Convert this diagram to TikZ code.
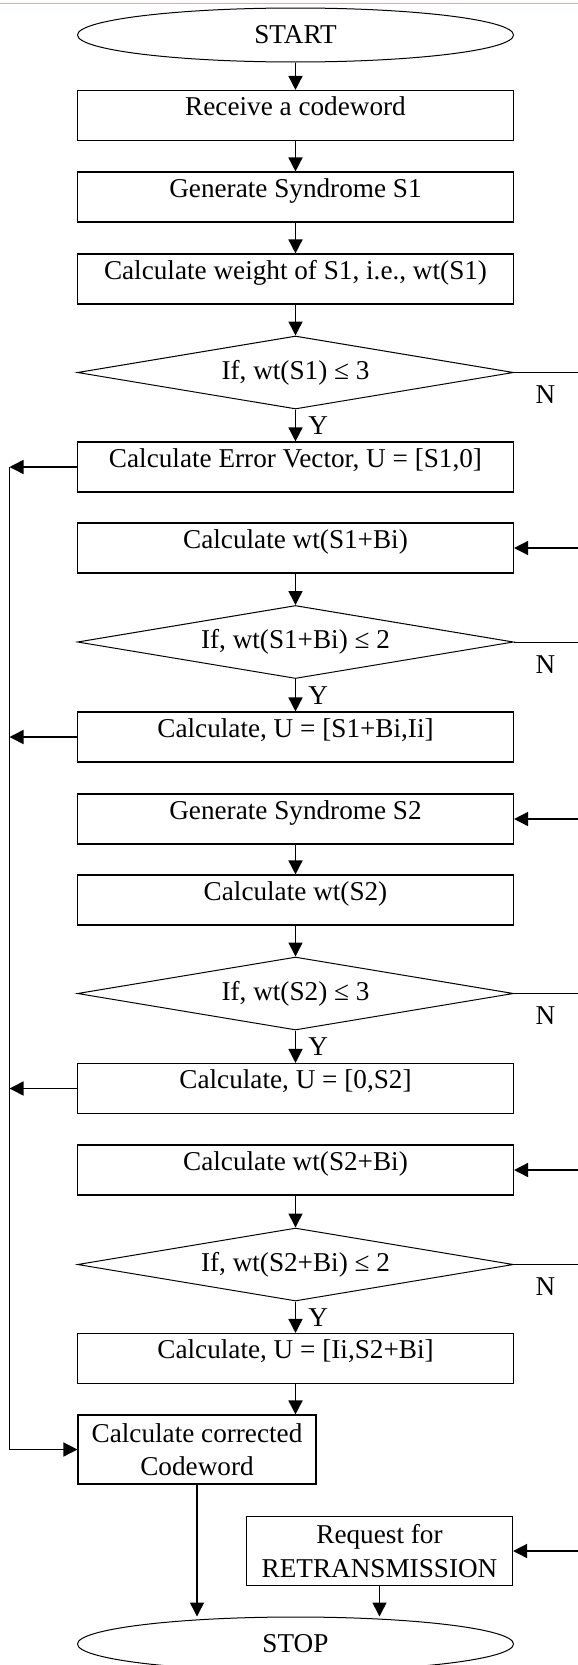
\documentclass[tikz,border=0pt]{standalone}
\usepackage{fontspec}
\setmainfont{Liberation Serif}
\usetikzlibrary{shapes.geometric,arrows.meta}
\definecolor{edgepink}{RGB}{226,170,170}
\tikzset{
  box/.style={draw,line width=0.55pt,rectangle,minimum width=218pt,minimum height=25pt,inner sep=0pt,text height=6pt,text depth=6pt},
  twobox/.style={draw,line width=0.55pt,rectangle,minimum height=34.5pt,inner sep=0pt,align=center},
  cond/.style={draw,line width=0.5pt,diamond,aspect=6,minimum width=218pt,minimum height=36.5pt,inner sep=0pt},
  term/.style={draw,line width=0.5pt,ellipse,minimum width=218pt,minimum height=27pt,inner sep=0pt},
  arr/.style={line width=0.75pt,-{Triangle[length=7pt,width=7pt]}},
  wire/.style={line width=0.75pt},
  noline/.style={line width=0.45pt},
  yes/.style={right=6pt,inner sep=0pt},
  no/.style={pos=0.49,below=6.5pt,inner sep=0pt}
}

\begin{document}
\begin{tikzpicture}[x=0.5pt,y=-0.5pt,font=\fontsize{13.6}{16.6}\selectfont]
  \useasboundingbox (0,0) rectangle (578,1665);
  \draw[edgepink,line width=0.8pt] (0,3.5) -- (578,3.5);

  \node[term] (start) at (295.5,35) {START};
  \node[box] (recv) at (295.5,115.5) {Receive a codeword};
  \node[box] (gen1) at (295.5,197) {Generate Syndrome S1};
  \node[box] (wt1) at (295.5,279) {Calculate weight of S1, i.e., wt(S1)};
  \node[cond] (d1) at (295.5,372.5) {If, wt(S1) ≤ 3};
  \node[box] (errv) at (295.5,467) {Calculate Error Vector, U = [S1,0]};
  \node[box] (s1b) at (295.5,548) {Calculate wt(S1+Bi)};
  \node[cond] (d2) at (295.5,642) {If, wt(S1+Bi) ≤ 2};
  \node[box] (u2) at (295.5,737) {Calculate, U = [S1+Bi,Ii]};
  \node[box] (gen2) at (295.5,819) {Generate Syndrome S2};
  \node[box] (wt2) at (295.5,900) {Calculate wt(S2)};
  \node[cond] (d3) at (295.5,993.5) {If, wt(S2) ≤ 3};
  \node[box] (u3) at (295.5,1088.5) {Calculate, U = [0,S2]};
  \node[box] (s2b) at (295.5,1170) {Calculate wt(S2+Bi)};
  \node[cond] (d4) at (295.5,1264.5) {If, wt(S2+Bi) ≤ 2};
  \node[box] (u4) at (295.5,1358.5) {Calculate, U = [Ii,S2+Bi]};
  \node[twobox,minimum width=119pt] (corr) at (197,1449.5) {Calculate corrected\\Codeword};
  \node[twobox,minimum width=133pt] (retx) at (379.5,1551) {Request for\\RETRANSMISSION};
  \node[term] (stop) at (295.5,1644) {STOP};

  \coordinate (lft) at (9.5,467);
  \coordinate (rgt) at (578,372.5);

  \draw[arr] (start) -- (recv);
  \draw[arr] (recv) -- (gen1);
  \draw[arr] (gen1) -- (wt1);
  \draw[arr] (wt1) -- (d1);
  \draw[arr] (d1) -- node[yes] (y1) {Y} (errv);
  \draw[arr] (s1b) -- (d2);
  \draw[arr] (d2) -- node[yes] (y2) {Y} (u2);
  \draw[arr] (gen2) -- (wt2);
  \draw[arr] (wt2) -- (d3);
  \draw[arr] (d3) -- node[yes] (y3) {Y} (u3);
  \draw[arr] (s2b) -- (d4);
  \draw[arr] (d4) -- node[yes] (y4) {Y} (u4);
  \draw[arr] (u4) -- (corr.north -| u4);
  \draw[arr] (corr.south) -- (corr.south |- stop.north);
  \draw[arr] (retx.south) -- (retx.south |- stop.north);

  \draw[noline] (d1.east) -- node[no] (n1) {N} (d1.east -| rgt);
  \draw[noline] (d2.east) -- node[no] (n2) {N} (d2.east -| rgt);
  \draw[noline] (d3.east) -- node[no] (n3) {N} (d3.east -| rgt);
  \draw[noline] (d4.east) -- node[no] (n4) {N} (d4.east -| rgt);
  \draw[arr] (s1b.east -| rgt) -- (s1b.east);
  \draw[arr] (gen2.east -| rgt) -- (gen2.east);
  \draw[arr] (s2b.east -| rgt) -- (s2b.east);
  \draw[arr] (retx.east -| rgt) -- (retx.east);

  \draw[arr] (errv.west) -- (errv.west -| lft);
  \draw[arr] (u2.west) -- (u2.west -| lft);
  \draw[arr] (u3.west) -- (u3.west -| lft);
  \draw[wire] (lft) -- (corr.west -| lft);
  \draw[arr] (corr.west -| lft) -- (corr.west);
\end{tikzpicture}
\end{document}
